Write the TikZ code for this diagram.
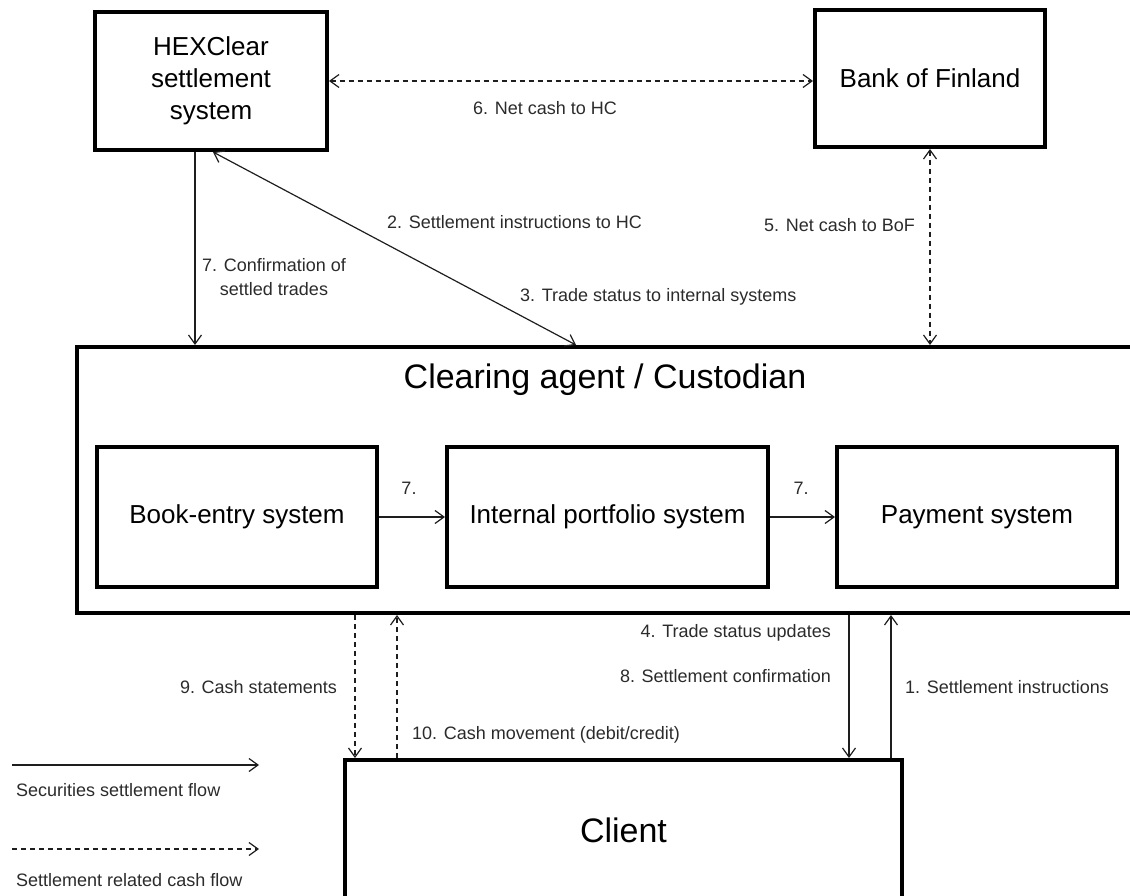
\documentclass[tikz,border=0pt]{standalone}
\usepackage{fontspec}
\setmainfont{Liberation Sans}
\usetikzlibrary{arrows.meta}
\definecolor{labelgray}{HTML}{2B2B2B}
\definecolor{linegray}{HTML}{1E1E1E}
\begin{document}
\begin{tikzpicture}[x=1pt,y=-1pt,
  box/.style={draw=black, line width=4pt, rectangle, inner sep=0pt, align=center,
              font=\fontsize{26}{32}\selectfont},
  bigtext/.style={font=\fontsize{34}{40}\selectfont, inner sep=0pt},
  lbl/.style={font=\fontsize{18}{24}\selectfont, text=labelgray, inner sep=0pt},
  tipA/.tip={Straight Barb[length=9pt,width=13pt,line width=1.2pt]},
  flow/.style={draw=linegray, line width=1.2pt, -tipA},
  both/.style={draw=linegray, line width=1.2pt, tipA-tipA},
  cash/.style={dash pattern=on 5pt off 4pt}
]
\useasboundingbox (0,0) rectangle (1130,896);
\clip (0,0) rectangle (1130,896);

% main boxes
\node[box, minimum width=232pt, minimum height=138pt] (hc) at (211,81)
  {HEXClear\\settlement\\system};
\node[box, minimum width=230pt, minimum height=137pt] (bof) at (930,78.5)
  {Bank of Finland};
\node[box, minimum width=1063pt, minimum height=266pt] (clr) at (608.5,480) {};
\node[bigtext] (clrtitle) at (605,380) {Clearing agent / Custodian};
\node[box, minimum width=280pt, minimum height=140pt] (book) at (237,517)
  {Book-entry system};
\node[box, minimum width=321pt, minimum height=140pt] (int) at (607.5,517)
  {Internal portfolio system};
\node[box, minimum width=280pt, minimum height=140pt] (pay) at (977,517)
  {Payment system};
\node[box, minimum width=557pt, minimum height=140pt, font=\fontsize{34}{40}\selectfont]
  (client) at (623.5,830) {Client};

% top connectors
\draw[both, cash] (hc.east) -- (hc.east -| bof.west);
\coordinate (c7a) at ([xshift=-16pt]hc.south);
\draw[flow] (c7a) -- (c7a |- clr.north);
\coordinate (d2a) at ([xshift=2pt]hc.south);
\coordinate (d2b) at ([xshift=-32.5pt]clr.north);
\draw[both] (d2a) -- (d2b);
\draw[both, cash] (bof.south) -- (bof.south |- clr.north);

% internal connectors
\draw[flow] (book.east) -- (int.west);
\draw[flow] (int.east) -- (pay.west);

% bottom connectors
\coordinate (b9) at ([xshift=-268.5pt]client.north);
\draw[flow, cash] (b9 |- clr.south) -- (b9);
\coordinate (b10) at ([xshift=-226.5pt]client.north);
\draw[flow, cash] (b10) -- (b10 |- clr.south);
\coordinate (b4) at ([xshift=225.5pt]client.north);
\draw[flow] (b4 |- clr.south) -- (b4);
\coordinate (b1) at ([xshift=267.5pt]client.north);
\draw[flow] (b1) -- (b1 |- clr.south);

% labels
\node[lbl, anchor=west] (l6) at (473,108) {6. Net cash to HC};
\node[lbl, anchor=west] (l2) at (387,222) {2. Settlement instructions to HC};
\node[lbl, anchor=west] (l3) at (520,297) {3. Trade status to internal systems};
\node[lbl, anchor=west] (l5) at (764,225) {5. Net cash to BoF};
\node[lbl, align=center] (l7) at (274,277) {7. Confirmation of\\settled trades};
\node[lbl] (l7a) at (409,488) {7.};
\node[lbl] (l7b) at (801,488) {7.};
\node[lbl, anchor=east] (l9) at (337,687) {9. Cash statements};
\node[lbl, anchor=west] (l10) at (412,735) {10. Cash movement (debit/credit)};
\node[lbl, anchor=east] (l4) at (831,633) {4. Trade status updates};
\node[lbl, anchor=east] (l8) at (831,676) {8. Settlement confirmation};
\node[lbl, anchor=west] (l1) at (905,687) {1. Settlement instructions};

% legend
\coordinate (lg1a) at (12,765);
\coordinate (lg1b) at (259,765);
\draw[flow] (lg1a) -- (lg1b);
\node[lbl, anchor=west] (lgt1) at (16,790) {Securities settlement flow};
\coordinate (lg2a) at (12,849);
\coordinate (lg2b) at (259,849);
\draw[flow, cash] (lg2a) -- (lg2b);
\node[lbl, anchor=west] (lgt2) at (16,880) {Settlement related cash flow};
\end{tikzpicture}
\end{document}
